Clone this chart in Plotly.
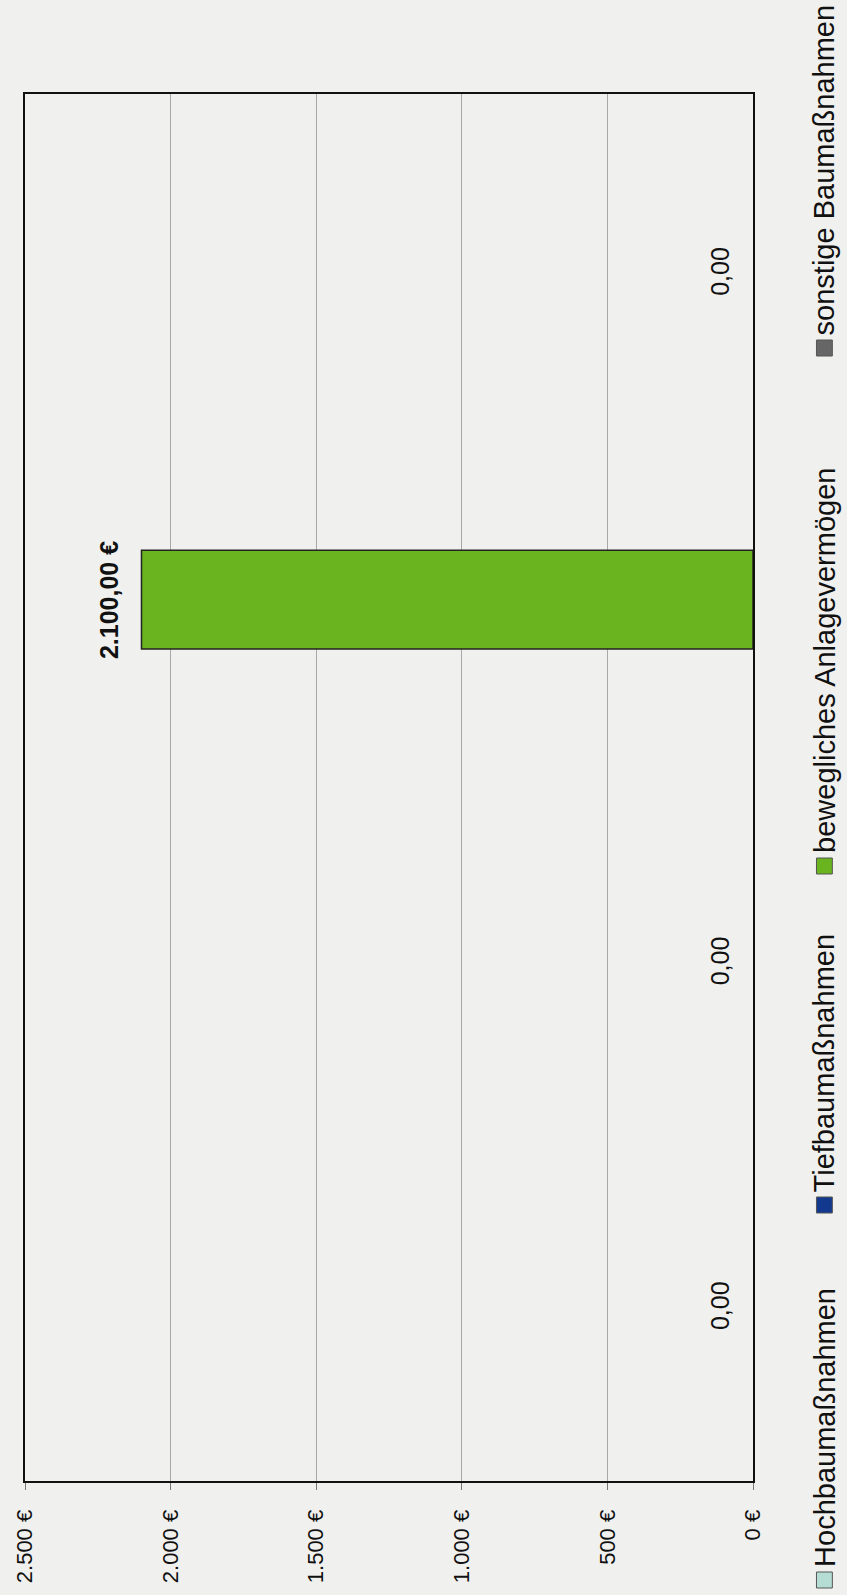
import plotly.graph_objects as go

# ---- data ----
series_names = ["Hochbaumaßnahmen", "Tiefbaumaßnahmen", "bewegliches Anlagevermögen", "sonstige Baumaßnahmen"]
series_values = [0.0, 0.0, 2100.0, 0.0]
series_colors = ["#b5ddd4", "#13398f", "#6ab51f", "#666666"]
category = ["Gesamt"]
tick_values = [0, 500, 1000, 1500, 2000, 2500]
tick_labels = ["0 €", "500 €", "1.000 €", "1.500 €", "2.000 €", "2.500 €"]


def de_num(v):
    s = f"{v:,.2f}"
    return s.replace(",", "X").replace(".", ",").replace("X", ".")


FONT = "Liberation Sans, Arial, sans-serif"
W, H = 847, 1595
L, R, T, B = 19, 753, 94, 1481  # plot area in pixels
BARGAP, BARGROUPGAP = 0.0058, 0.713
YSHIFT = -0.0112

fig = go.Figure()
for name, val, col in zip(series_names, series_values, series_colors):
    fig.add_trace(go.Bar(
        orientation="h",
        x=[val], y=category, name=name,
        marker=dict(color=col, line=dict(color="#222222", width=1.5 if val > 0 else 0)),
        showlegend=False, hoverinfo="x+name",
    ))

# value labels, placed at each bar's end within the group
n = len(series_names)
slot = (1 - BARGAP) / n
for i, (name, val) in enumerate(zip(series_names, series_values)):
    label = de_num(val) + (" €" if val > 0 else "")
    fig.add_annotation(
        xref="x", yref="y", x=val, y=-(1 - BARGAP) / 2 + slot * (i + 0.5),
        text=label, textangle=-90, showarrow=False,
        xanchor="right", yanchor="middle", xshift=-17,
        yshift=0 if val > 0 else -17,
        font=dict(family=FONT, size=25, color="#111111",
                  weight="bold" if val > 0 else "normal"),
    )

fig.update_layout(
    width=W, height=H,
    margin=dict(l=L, r=W - R, t=T, b=H - B, pad=0),
    paper_bgcolor="#f0f0ee", plot_bgcolor="#f0f0ee",
    barmode="group", bargap=BARGAP, bargroupgap=BARGROUPGAP,
    font=dict(family=FONT, color="#111111"),
    showlegend=False,
)
fig.update_xaxes(
    range=[2500, 0], tickvals=tick_values, ticktext=tick_labels,
    tickangle=-90, tickfont=dict(family=FONT, size=22, color="#111111"),
    ticks="outside", ticklen=7, tickcolor="#777777", tickwidth=1,
    showgrid=True, gridcolor="#a8a8a8", gridwidth=1,
    showline=True, linecolor="#111111", linewidth=2, mirror=True,
    zeroline=False, ticklabelstandoff=11,
)
fig.update_yaxes(
    range=[-0.5 + YSHIFT, 0.5 + YSHIFT], showticklabels=False, ticks="",
    showgrid=False, zeroline=False,
    showline=True, linecolor="#111111", linewidth=2, mirror=True,
)

# rotated legend (annotations + swatches), read bottom-to-top as in the reference
legend_swatch_y = [1580, 1205, 866, 348]  # pixel centres of swatches
px = lambda x: (x - L) / (R - L)
py = lambda y: (B - y) / (B - T)
for name, col, sy in zip(series_names, series_colors, legend_swatch_y):
    fig.add_shape(type="rect", xref="paper", yref="paper",
                  x0=px(817), x1=px(833), y0=py(sy + 8), y1=py(sy - 8),
                  fillcolor=col, line=dict(color="#555555", width=1))
    fig.add_annotation(xref="paper", yref="paper", x=px(825), y=py(sy - 11),
                       text=name, textangle=-90, showarrow=False,
                       xanchor="center", yanchor="bottom",
                       font=dict(family=FONT, size=29, color="#111111"))

fig.write_html("out.html", config={"displayModeBar": False},
               post_script="document.body.style.margin='0';")
